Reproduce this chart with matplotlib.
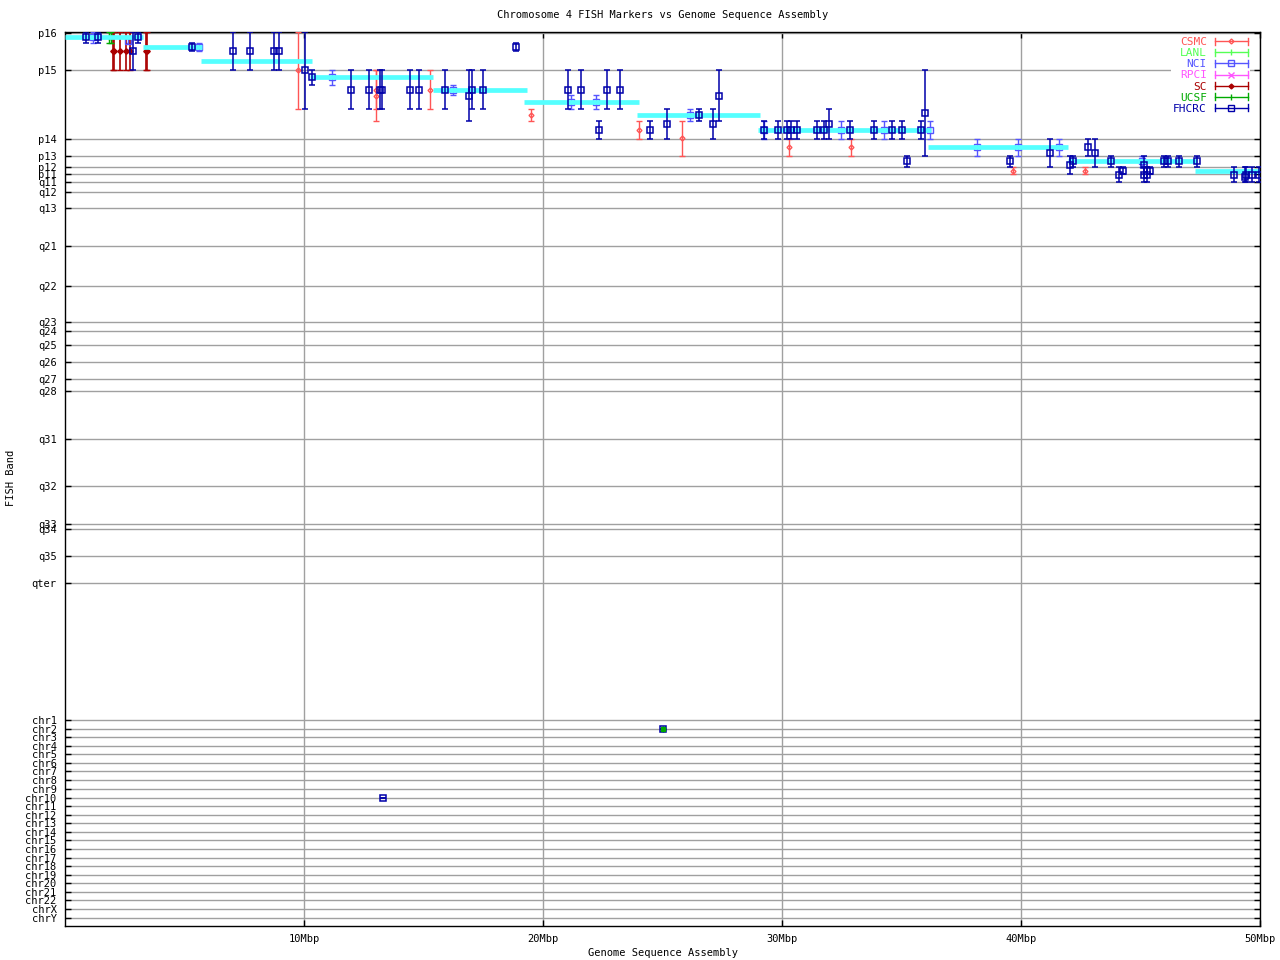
import matplotlib
matplotlib.use("Agg")
import matplotlib.pyplot as plt
from matplotlib.lines import Line2D
from matplotlib.legend_handler import HandlerBase

# Y axis: position along the FISH band scale (top of p arm = small values)
band_labels = ["p16", "p15", "p14", "p13", "p12", "p11", "q11", "q12", "q13", "q21",
               "q22", "q23", "q24", "q25", "q26", "q27", "q28", "q31", "q32", "q33",
               "q34", "q35", "qter"]
band_pos = [33, 70, 139, 156, 167, 174, 182, 192, 208, 246,
            286, 322, 331, 345, 362, 379, 391, 439, 486, 524,
            529, 556, 583]
chr_labels = ["chr%d" % i for i in range(1, 23)] + ["chrX", "chrY"]
chr_pos = [720, 728.5, 737, 746, 754, 763, 771, 780, 788.5, 797.5, 806, 814.5,
           823, 832, 840, 849, 857.5, 866, 874.5, 883, 892, 900, 909, 917.5]

x_ticks = [10, 20, 30, 40, 50]
x_ticklabels = ["10Mbp", "20Mbp", "30Mbp", "40Mbp", "50Mbp"]

# assembly segments (cyan)
seg_start = [0.0, 3.26, 5.69, 10.25, 15.4, 19.2, 23.95, 29.0, 36.1, 41.97, 47.3]
seg_end = [3.26, 5.73, 10.33, 15.4, 19.33, 24.0, 29.08, 36.24, 41.97, 47.36, 50.1]
seg_pos = [37, 47, 61, 77, 90, 102, 115, 130, 147, 161, 171]

# FHCRC
fhcrc_mbp = [0.89, 1.39, 2.86, 3.07, 5.33, 7.04, 7.75, 8.74, 8.97, 10.04, 10.35, 11.98,
             12.73, 13.18, 13.25, 14.45, 14.82, 15.91, 16.92, 17.04, 17.50, 18.88, 21.06,
             21.60, 22.36, 22.69, 23.23, 24.49, 25.20, 26.54, 27.13, 27.38, 29.25, 29.85,
             30.20, 30.39, 30.64, 31.48, 31.77, 31.98, 32.86, 33.86, 34.59, 35.03, 35.24,
             35.83, 36.00, 39.55, 41.23, 42.05, 42.19, 42.82, 43.11, 43.78, 44.11, 44.28,
             45.16, 45.16, 45.28, 45.40, 45.98, 46.16, 46.62, 47.38, 48.92, 49.37, 49.41,
             49.68, 49.97, 13.31, 25.02]
fhcrc_pos = [37, 37, 51, 37, 47, 51, 51, 51, 51, 70, 77, 90,
             90, 90, 90, 90, 90, 90, 96, 90, 90, 47, 90,
             90, 130, 90, 90, 130, 124, 115, 124, 96, 130, 130,
             130, 130, 130, 130, 130, 124, 130, 130, 130, 130, 161,
             130, 113, 161, 153, 165, 161, 147, 153, 161, 175, 171,
             165, 175, 175, 171, 161, 161, 161, 161, 175, 177, 175,
             175, 175, 797.5, 728.5]
fhcrc_lo = [32, 32, 32, 32, 43, 32, 32, 32, 32, 32, 70, 70,
            70, 70, 70, 70, 70, 70, 70, 70, 70, 43, 70,
            70, 121, 70, 70, 121, 109, 109, 109, 70, 121, 121,
            121, 121, 121, 121, 121, 109, 121, 121, 121, 121, 156,
            121, 70, 156, 139, 156, 156, 139, 139, 156, 167, 167,
            156, 167, 167, 167, 156, 156, 156, 156, 167, 167, 167,
            167, 167, 797.5, 728.5]
fhcrc_hi = [43, 43, 70, 43, 51, 70, 70, 70, 70, 109, 85, 109,
            109, 109, 109, 109, 109, 109, 121, 109, 109, 51, 109,
            109, 139, 109, 109, 139, 139, 121, 139, 121, 139, 139,
            139, 139, 139, 139, 139, 139, 139, 139, 139, 139, 167,
            139, 156, 167, 167, 174, 167, 156, 167, 167, 182, 174,
            174, 182, 182, 174, 167, 167, 167, 167, 182, 182, 182,
            182, 182, 797.5, 728.5]

# CSMC
csmc_mbp = [9.76, 13.03, 13.03, 15.27, 19.51, 24.03, 25.83, 30.28, 32.90, 39.68, 42.69]
csmc_pos = [70, 90, 96, 90, 115, 130, 138, 147, 147, 171, 171]
csmc_lo = [32, 70, 70, 70, 109, 121, 121, 139, 139, 167, 167]
csmc_hi = [109, 109, 121, 109, 121, 139, 156, 156, 156, 174, 174]

# NCI
nci_mbp = [1.16, 2.64, 5.62, 11.18, 16.25, 21.18, 22.23, 26.16, 29.25, 32.48, 34.28,
           36.19, 38.15, 39.86, 41.60, 45.05]
nci_pos = [37, 41, 47, 77, 90, 102, 102, 115, 130, 130, 130, 130, 147, 147, 147, 161]
nci_lo = [32, 38, 43, 70, 85, 95, 95, 109, 121, 121, 121, 121, 139, 139, 139, 156]
nci_hi = [43, 43, 51, 85, 95, 109, 109, 121, 139, 139, 139, 139, 156, 156, 156, 167]

# SC
sc_mbp = [2.00, 2.05, 2.30, 2.55, 2.72, 3.40, 3.44]
sc_pos = [51, 51, 51, 51, 51, 51, 51]
sc_lo = [32, 32, 32, 32, 32, 32, 32]
sc_hi = [70, 70, 70, 70, 70, 70, 70]

# UCSF
ucsf_mbp = [1.83, 1.92, 25.02]
ucsf_pos = [37, 37, 728.5]
ucsf_lo = [32, 32, 728.5]
ucsf_hi = [43, 43, 728.5]

colors = {
    "CSMC": "#ff5555", "LANL": "#55ff55", "NCI": "#5555ff", "RPCI": "#ff55ff",
    "SC": "#aa0000", "UCSF": "#00aa00", "FHCRC": "#0000aa",
}
markers = {"CSMC": "D", "LANL": "|", "NCI": "s", "RPCI": "x", "SC": "D", "UCSF": "|", "FHCRC": "s"}

mono = "DejaVu Sans Mono"
plt.rcParams["font.family"] = mono
plt.rcParams["font.size"] = 7.5

fig = plt.figure(figsize=(12.8, 9.6), dpi=100)
ax = fig.add_axes([65 / 1280, 34 / 960, 1195 / 1280, 894 / 960])

ax.set_xlim(0, 50)
ax.set_ylim(926, 32)


def draw(xs, ys, lo, hi, name, lw, ms, mfc, z, mew=1.0):
    yerr = [[y - l for y, l in zip(ys, lo)], [h - y for y, h in zip(ys, hi)]]
    ax.errorbar(xs, ys, yerr=yerr, fmt=markers[name], color=colors[name],
                ecolor=colors[name], elinewidth=lw, capsize=2.4, capthick=lw,
                ms=ms, mfc=mfc, mec=colors[name], mew=mew, zorder=z)


draw(csmc_mbp, csmc_pos, csmc_lo, csmc_hi, "CSMC", 1.0, 2.5, "none", 3)
draw(nci_mbp, nci_pos, nci_lo, nci_hi, "NCI", 1.0, 5, "none", 3)
draw(sc_mbp, sc_pos, sc_lo, sc_hi, "SC", 1.2, 2.8, colors["SC"], 3)
draw(ucsf_mbp, ucsf_pos, ucsf_lo, ucsf_hi, "UCSF", 1.0, 4, colors["UCSF"], 3)

for s, e, p in zip(seg_start, seg_end, seg_pos):
    ax.plot([s, e], [p, p], color="#55ffff", lw=3.4, solid_capstyle="butt", zorder=4)

draw(fhcrc_mbp, fhcrc_pos, fhcrc_lo, fhcrc_hi, "FHCRC", 1.1, 5, "none", 5, mew=1.1)
# chr2 hit also marked by UCSF (filled)
ax.plot([ucsf_mbp[2]], [ucsf_pos[2]], "s", ms=3, color=colors["UCSF"], zorder=6)

# axes, grid
ax.set_xticks(x_ticks)
ax.set_xticklabels(x_ticklabels)
ax.set_yticks(band_pos + chr_pos)
ax.set_yticklabels(band_labels + chr_labels)
ax.grid(True, color="#a0a0a0", lw=1.0)
ax.set_axisbelow(True)
ax.tick_params(direction="in", length=4.5, width=1, top=True, right=True, pad=6,
               labelsize=7.5)
for sp in ax.spines.values():
    sp.set_linewidth(1.0)


class CapLineHandler(HandlerBase):
    def create_artists(self, legend, orig_handle, xdescent, ydescent, width, height,
                       fontsize, trans):
        c = orig_handle.get_color()
        y = height / 2 - ydescent
        x0, x1 = -xdescent, -xdescent + width
        cap = height * 0.45
        arts = [Line2D([x0, x1], [y, y], color=c, lw=1.0)]
        for xx in (x0, x1):
            arts.append(Line2D([xx, xx], [y - cap, y + cap], color=c, lw=1.0))
        arts.append(Line2D([(x0 + x1) / 2], [y], marker=orig_handle.get_marker(),
                           ms=orig_handle.get_markersize(), mfc=orig_handle.get_markerfacecolor(),
                           mec=c, mew=1.0, ls="none"))
        for a in arts:
            a.set_transform(trans)
        return arts


names = ["CSMC", "LANL", "NCI", "RPCI", "SC", "UCSF", "FHCRC"]
msizes = {"CSMC": 2.5, "LANL": 5, "NCI": 4, "RPCI": 4, "SC": 2.5, "UCSF": 5, "FHCRC": 4}
handles = [Line2D([], [], color=colors[n], marker=markers[n], ms=msizes[n],
                  mfc=(colors[n] if n == "SC" else "none")) for n in names]
leg = ax.legend(handles, names, loc="upper right", bbox_to_anchor=(0.9965, 1.003),
                markerfirst=False, labelcolor="linecolor", fontsize=8,
                handler_map={Line2D: CapLineHandler()}, handlelength=3.0,
                handletextpad=0.7, labelspacing=0.1, borderpad=0.2,
                frameon=True, fancybox=False, edgecolor="none", framealpha=1)
leg.set_zorder(10)

fig.text(663 / 1280, 1 - 15 / 960, "Chromosome 4 FISH Markers vs Genome Sequence Assembly",
         ha="center", va="center", fontsize=7.5)
fig.text(663 / 1280, 1 - 953 / 960, "Genome Sequence Assembly", ha="center", va="center",
         fontsize=7.5)
fig.text(11 / 1280, 1 - 478 / 960, "FISH Band", ha="center", va="center", rotation=90,
         fontsize=7.5)

fig.savefig("out.png", dpi=100)
